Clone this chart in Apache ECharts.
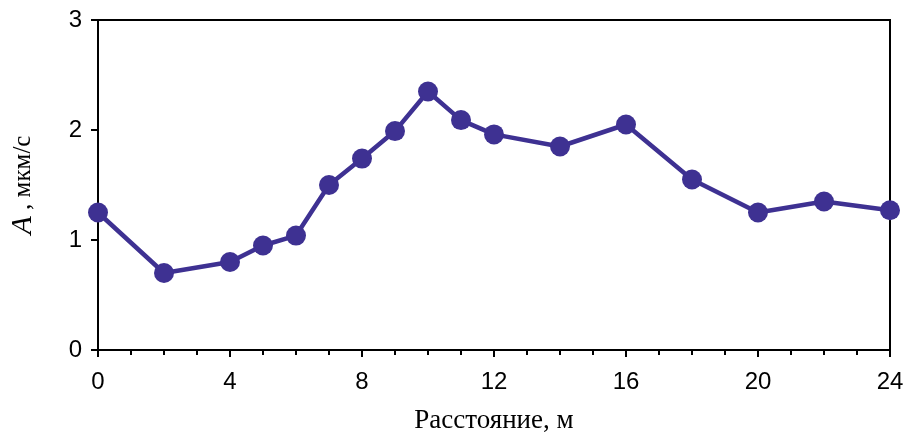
<!DOCTYPE html>
<html>
<head>
<meta charset="utf-8">
<script src="https://cdn.jsdelivr.net/npm/echarts@6/dist/echarts.min.js"></script>
<style>
  html, body { margin: 0; padding: 0; background: #fff; }
  #chart { width: 907px; height: 439px; }
</style>
</head>
<body>
<div id="chart"></div>
<script>
  // distance, m
  const distance = [0, 2, 4, 5, 6, 7, 8, 9, 10, 11, 12, 14, 16, 18, 20, 22, 24];
  // amplitude A, um/s
  const amplitude = [1.25, 0.70, 0.80, 0.95, 1.04, 1.50, 1.74, 1.99, 2.35, 2.09, 1.96, 1.85, 2.05, 1.55, 1.25, 1.35, 1.27];

  const lineColor = '#3e3192';
  const chart = echarts.init(document.getElementById('chart'));

  chart.setOption({
    animation: false,
    grid: {
      left: 97,
      right: 17,
      top: 20,
      bottom: 85,
      show: true,
      borderColor: '#000',
      borderWidth: 2
    },
    xAxis: {
      type: 'value',
      min: 0,
      max: 24,
      interval: 4,
      name: 'Расстояние, м',
      nameLocation: 'middle',
      nameGap: 57,
      nameTextStyle: { fontFamily: 'Liberation Serif', fontSize: 27, color: '#000' },
      axisLine: { lineStyle: { color: '#000', width: 2 } },
      axisTick: { inside: false, length: 7, lineStyle: { color: '#000', width: 2 } },
      minorTick: { show: true, splitNumber: 4, length: 5, lineStyle: { color: '#000', width: 2 } },
      axisLabel: { fontFamily: 'Liberation Sans', fontSize: 24, color: '#000', margin: 20 },
      splitLine: { show: false }
    },
    yAxis: {
      type: 'value',
      min: 0,
      max: 3,
      interval: 1,
      name: '{a|A}{b| , мкм/с}',
      nameLocation: 'middle',
      nameRotate: 90,
      nameGap: 60,
      nameTextStyle: {
        rich: {
          a: { fontFamily: 'Liberation Serif', fontStyle: 'italic', fontSize: 30, color: '#000' },
          b: { fontFamily: 'Liberation Serif', fontSize: 25, color: '#000' }
        }
      },
      axisLine: { show: true, lineStyle: { color: '#000', width: 2 } },
      axisTick: { show: true, inside: false, length: 7, lineStyle: { color: '#000', width: 2 } },
      axisLabel: { fontFamily: 'Liberation Sans', fontSize: 24, color: '#000', margin: 16 },
      splitLine: { show: false }
    },
    series: [
      {
        type: 'line',
        data: distance.map((d, i) => [d, amplitude[i]]),
        symbol: 'circle',
        symbolSize: 20,
        lineStyle: { color: lineColor, width: 4.5 },
        itemStyle: { color: lineColor }
      }
    ]
  });
</script>
</body>
</html>
